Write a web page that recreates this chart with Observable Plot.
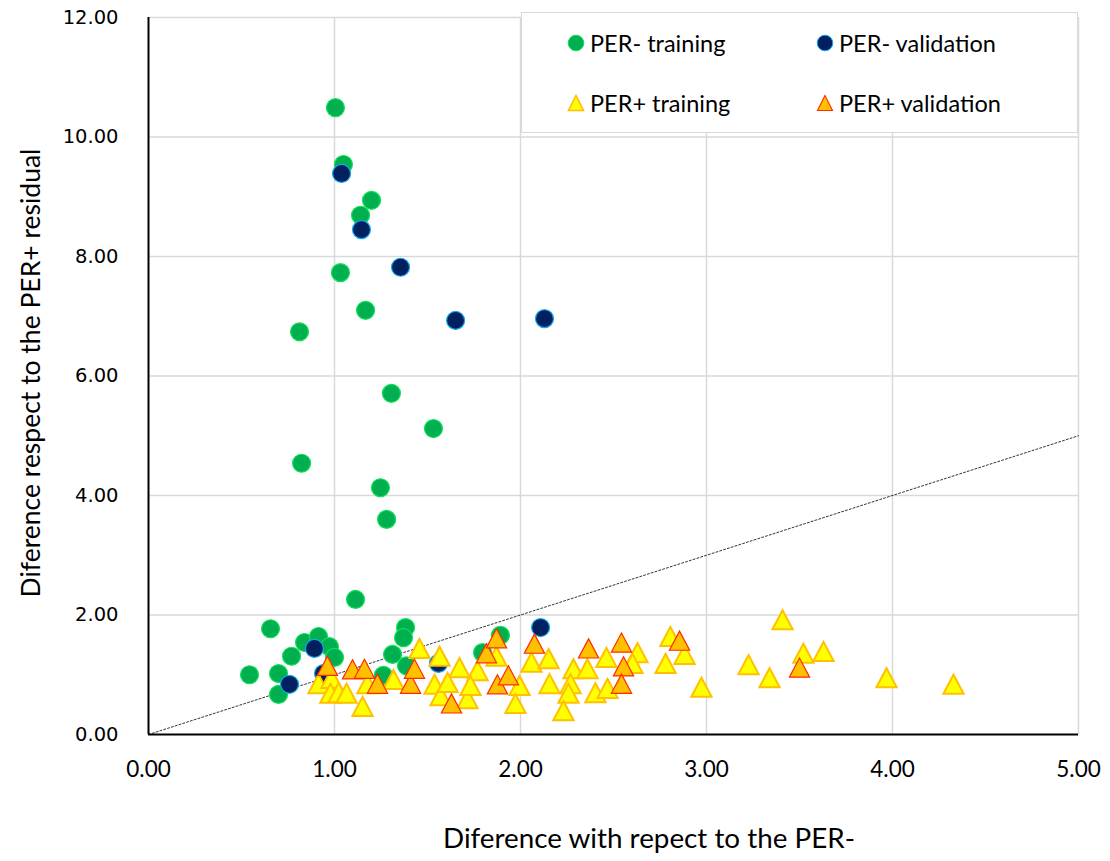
<!DOCTYPE html>
<html><head><meta charset="utf-8">
<script src="https://cdn.jsdelivr.net/npm/d3@7"></script>
<script src="https://cdn.jsdelivr.net/npm/@observablehq/plot@0.6"></script>
<style>
body{margin:0;background:#fff;}
#wrap{position:relative;width:1110px;height:861px;overflow:hidden;}
.ttl{position:absolute;font-family:Lato,"Open Sans",sans-serif;color:#000;white-space:nowrap;line-height:1;}
#xtitle{left:649px;top:824px;font-size:27.8px;transform:translateX(-50%);}
#ytitle{left:30px;top:373px;font-size:26.5px;transform:translate(-50%,-50%) rotate(-90deg);}
#legend{position:absolute;left:521px;top:12px;width:555px;height:119px;border:1.5px solid #d9d9d9;background:#fff;font-family:Lato,"Open Sans",sans-serif;font-size:23.5px;color:#000;}
.li{position:absolute;display:flex;align-items:center;height:30px;}
.li svg{margin-right:5px;}
</style></head>
<body><div id="wrap"><div id="chart"></div>
<div class="ttl" id="xtitle">Diference with repect to the PER-</div>
<div class="ttl" id="ytitle">Diference respect to the PER+ residual</div>
<div id="legend"></div>
</div>
<script>
// ---- data ----
const perMinusTrainX = [1.005,1.048,1.140,1.199,1.032,1.167,0.812,1.306,1.532,0.823,1.247,1.280,1.113,0.656,0.839,0.914,0.973,1.000,0.769,0.543,0.699,0.699,1.382,1.371,1.312,1.387,1.263,1.892,1.796];
const perMinusTrainY = [10.49,9.54,8.69,8.94,7.73,7.10,6.74,5.71,5.12,4.54,4.13,3.60,2.26,1.77,1.54,1.64,1.47,1.29,1.31,1.00,1.02,0.67,1.79,1.62,1.34,1.15,0.99,1.66,1.37];

const perMinusValX = [1.038,1.145,1.355,1.651,2.129,0.892,0.758,0.941,1.559,2.108];
const perMinusValY = [9.39,8.45,7.82,6.93,6.96,1.44,0.84,1.02,1.19,1.79];

const perPlusTrainX = [0.914,0.984,0.978,1.022,1.065,1.177,1.151,1.317,1.457,1.565,1.538,1.570,1.672,1.769,1.871,1.608,1.715,1.731,1.995,1.973,2.059,2.151,2.156,2.285,2.269,2.258,2.231,2.360,2.462,2.403,2.468,2.629,2.602,2.806,2.882,2.780,2.973,3.409,3.226,3.339,3.521,3.629,3.968,4.328];
const perPlusTrainY = [0.85,0.94,0.69,0.70,0.69,0.85,0.47,0.92,1.44,1.31,0.84,0.65,1.12,1.07,1.31,0.87,0.60,0.82,0.82,0.52,1.21,1.27,0.85,1.10,0.85,0.69,0.40,1.10,1.29,0.70,0.77,1.37,1.19,1.64,1.34,1.19,0.79,1.92,1.17,0.95,1.36,1.39,0.95,0.84];

const perPlusValX = [0.962,1.097,1.161,1.231,1.409,1.430,1.817,1.871,1.629,1.876,1.935,2.075,2.366,2.543,2.554,2.543,2.855,3.500];
const perPlusValY = [1.15,1.09,1.10,0.85,0.85,1.10,1.36,1.61,0.52,0.84,0.99,1.52,1.44,1.54,1.14,0.85,1.57,1.12];

const xTicks = [0,1,2,3,4,5];
const yTicks = [0,2,4,6,8,10,12];
const identityLine = [0,5];
const seriesNames = ["PER- training","PER- validation","PER+ training","PER+ validation"];

// ---- build ----
const zip = (xs, ys) => xs.map((x,i) => ({x, y: ys[i]}));
const s1 = zip(perMinusTrainX, perMinusTrainY);
const s2 = zip(perMinusValX, perMinusValY);
const s3 = zip(perPlusTrainX, perPlusTrainY);
const s4 = zip(perPlusValX, perPlusValY);
const diag = identityLine.map(v => ({x: v, y: v}));

const tri = {
  draw(ctx, size) {
    const r = Math.sqrt(size / Math.PI);
    const w = r * 1.35, h = r * 2.55;
    ctx.moveTo(0, -h/2);
    ctx.lineTo(w, h/2);
    ctx.lineTo(-w, h/2);
    ctx.closePath();
  }
};

const chart = Plot.plot({
  width: 1110, height: 861,
  marginTop: 17, marginLeft: 148, marginRight: 32, marginBottom: 127,
  x: {domain: [0,5]},
  y: {domain: [0,12]},
  style: {background: "#fff"},
  marks: [
    Plot.ruleX(xTicks.filter(d => d > 0), {stroke: "#d9d9d9", strokeWidth: 1.5}),
    Plot.ruleY(yTicks.filter(d => d > 0), {stroke: "#d9d9d9", strokeWidth: 1.5}),
    Plot.line(diag, {x: "x", y: "y", stroke: "#333", strokeWidth: 1, strokeDasharray: "2,2"}),
    Plot.dot(s1, {x: "x", y: "y", r: 9, fill: "#00b050", stroke: "#12e05a", strokeWidth: 1.2, symbol: "circle"}),
    Plot.dot(s2, {x: "x", y: "y", r: 9, fill: "#002060", stroke: "#1aa8e8", strokeWidth: 1.2, symbol: "circle"}),
    Plot.dot(s3, {x: "x", y: "y", r: 7.5, fill: "#ffff00", stroke: "#ffc000", strokeWidth: 2, symbol: tri}),
    Plot.dot(s4, {x: "x", y: "y", r: 7.5, fill: "#ffc000", stroke: "#ff2a00", strokeWidth: 1.2, symbol: tri}),
    Plot.ruleX([0], {stroke: "#000", strokeWidth: 2}),
    Plot.ruleY([0], {stroke: "#000", strokeWidth: 2}),
    Plot.axisY({ticks: yTicks, tickFormat: d => d.toFixed(2), tickSize: 0, tickPadding: 30,
      fontSize: 19.5, fontFamily: "DejaVu Sans", fill: "#000", label: null}),
    Plot.axisX({ticks: xTicks, tickFormat: d => d.toFixed(2), tickSize: 0, tickPadding: 27,
      fontSize: 22.5, fontFamily: "Lato", fill: "#000", label: null})
  ]
});
document.getElementById("chart").appendChild(chart);

// ---- legend ----
const legend = document.getElementById("legend");
const legendMarkers = [
  `<svg width="18" height="18"><circle cx="9" cy="9" r="7.8" fill="#00b050" stroke="#12e05a" stroke-width="1"/></svg>`,
  `<svg width="18" height="18"><circle cx="9" cy="9" r="7.8" fill="#002060" stroke="#1aa8e8" stroke-width="1"/></svg>`,
  `<svg width="18" height="18"><path d="M9,1.5L16.5,16.5L1.5,16.5Z" fill="#ffff00" stroke="#ffc000" stroke-width="1.6"/></svg>`,
  `<svg width="18" height="18"><path d="M9,1.5L16.5,16.5L1.5,16.5Z" fill="#ffc000" stroke="#ff2a00" stroke-width="1.1"/></svg>`
];
const pos = [[45,15],[294,15],[45,75],[294,75]];
seriesNames.forEach((n,i) => {
  const d = document.createElement("div");
  d.className = "li";
  d.style.left = pos[i][0] + "px";
  d.style.top = pos[i][1] + "px";
  d.innerHTML = legendMarkers[i] + "<span>" + n + "</span>";
  legend.appendChild(d);
});
</script>
</body></html>
